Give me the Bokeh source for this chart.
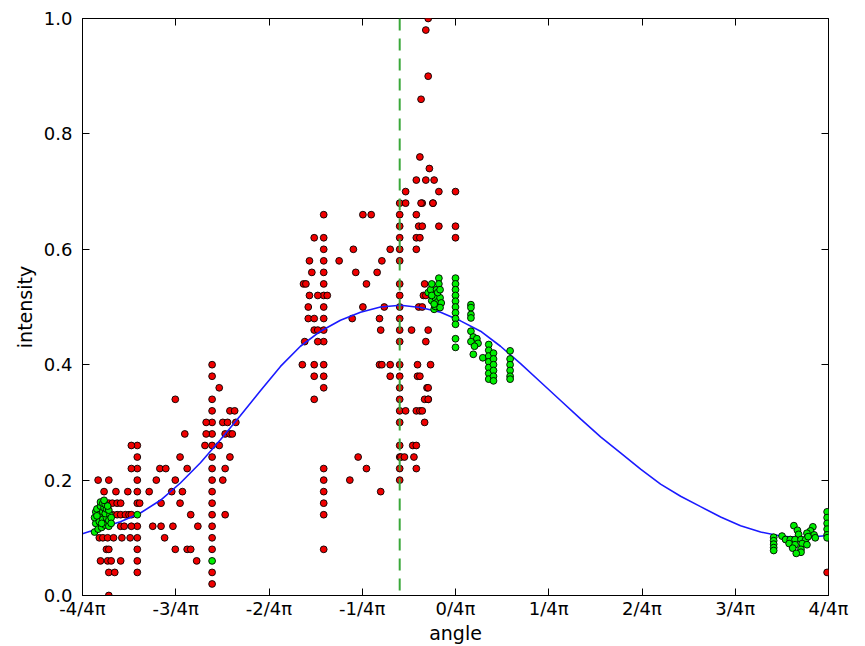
import numpy as np
from bokeh.plotting import figure
from bokeh.models import ColumnDataSource, FixedTicker, LinearAxis, Span, Range1d
from bokeh.embed import file_html
from bokeh.resources import INLINE

# ---------------- data ----------------
# red (other) measurements: angle [rad], intensity
red_x = [
    -3.01, -2.92,
    -2.96, -2.86, -2.76,
    -2.68, -2.68, -2.68, -2.68, -2.68, -2.68, -2.68, -2.68, -2.68, -2.68, -2.68,
    -2.73, -2.73,
    -2.95, -2.92, -2.89, -2.85, -2.82, -2.66,
    -2.89, -2.85, -2.82, -2.78, -2.75, -2.73,
    -2.82, -2.79, -2.73,
    -3.00, -2.97, -2.93, -2.88, -2.81, -2.74,
    -2.94, -2.92,
    -2.99, -2.93, -2.90, -2.82,
    -2.92, -2.87,
    -2.92,
    -2.36, -2.36, -2.36, -2.28, -2.32, -2.49, -2.44, -2.26, -2.52,
    -2.58, -2.39, -2.30, -2.48, -2.32, -2.23,
    -2.55, -2.48, -2.38, -2.17, -2.45, -2.26, -2.23, -2.18,
    -2.05, -2.05, -2.05, -2.05, -2.05, -2.05, -2.05, -2.05, -2.05,
    -2.05, -2.05, -2.05, -2.05, -2.05, -2.05, -2.05, -2.05, -2.05,
    -1.99, -1.90, -1.86, -2.10, -1.96, -1.92, -1.85,
    -2.10, -1.94, -1.90, -1.88, -2.11, -1.99, -1.90, -1.94, -1.96, -1.94,
    -1.11, -1.11, -1.11, -1.11, -1.11, -1.11, -1.11, -1.11, -1.11, -1.11,
    -1.11, -1.11, -1.11, -1.11, -1.11, -1.11, -1.11, -1.11, -1.11, -1.11,
    -1.19, -1.23, -1.21, -1.28, -1.26, -1.23, -1.16, -1.08, -1.24,
    -1.24, -1.19, -1.19, -1.16, -1.27, -1.16, -1.29, -1.19, -1.19, -1.19,
    -0.78, -0.71, -0.86, -0.55, -0.98, -0.62, -0.84, -0.66, -0.75,
    -0.78, -0.60, -0.87, -0.64, -0.63, -0.64, -0.62, -0.55, -0.55,
    -0.82, -0.75, -0.89, -0.63,
    -0.47, -0.47, -0.47, -0.47, -0.47, -0.47, -0.47, -0.47, -0.47, -0.47, -0.47,
    -0.47, -0.47, -0.47, -0.47, -0.47, -0.47, -0.47, -0.47, -0.47, -0.47, -0.47,
    -0.42, -0.28, -0.19, -0.33, -0.31, -0.28, -0.14, 0.00,
    -0.33, -0.30, 0.00, -0.33, -0.27, -0.25, -0.31, -0.28,
    -0.37, -0.23, -0.25, -0.32, -0.21, -0.32, -0.30, -0.24, -0.23, -0.23,
    -0.42, -0.33, -0.30, -0.28, -0.26, -0.23, -0.26, -0.36, -0.33,
    -0.46, -0.43, -0.35, -0.33, -0.26,
    -0.23, -0.25, -0.23, -0.29, -0.30, -0.22, -0.33, -0.25, -0.18,
    -0.42, -0.14, 0.00, -0.29, -0.19,
    3.13,
]
red_y = [
    0.20, 0.20,
    0.18, 0.18, 0.18,
    0.26, 0.24, 0.22, 0.20, 0.18, 0.16, 0.12, 0.10, 0.08, 0.06, 0.04,
    0.26, 0.22,
    0.16, 0.16, 0.16, 0.16, 0.16, 0.16,
    0.14, 0.14, 0.14, 0.14, 0.14, 0.14,
    0.12, 0.12, 0.12,
    0.10, 0.10, 0.10, 0.10, 0.10, 0.10,
    0.08, 0.08,
    0.06, 0.06, 0.06, 0.06,
    0.04, 0.04,
    0.00,
    0.34, 0.20, 0.08, 0.28, 0.24, 0.22, 0.22, 0.22, 0.20,
    0.18, 0.18, 0.18, 0.16, 0.16, 0.14,
    0.12, 0.12, 0.12, 0.12, 0.10, 0.08, 0.08, 0.06,
    0.40, 0.38, 0.34, 0.32, 0.30, 0.28, 0.26, 0.24, 0.22,
    0.20, 0.18, 0.16, 0.14, 0.12, 0.10, 0.08, 0.04, 0.02,
    0.36, 0.32, 0.32, 0.30, 0.30, 0.30, 0.30,
    0.28, 0.28, 0.28, 0.28, 0.26, 0.26, 0.24, 0.22, 0.20, 0.14,
    0.66, 0.62, 0.60, 0.58, 0.56, 0.54, 0.52, 0.50, 0.48, 0.46,
    0.44, 0.40, 0.38, 0.36, 0.22, 0.20, 0.18, 0.16, 0.14, 0.08,
    0.62, 0.58, 0.56, 0.54, 0.54, 0.52, 0.52, 0.52, 0.50,
    0.48, 0.48, 0.46, 0.46, 0.44, 0.44, 0.40, 0.40, 0.38, 0.34,
    0.66, 0.66, 0.60, 0.60, 0.58, 0.58, 0.56, 0.56, 0.54,
    0.50, 0.50, 0.48, 0.48, 0.46, 0.40, 0.40, 0.40, 0.38,
    0.24, 0.22, 0.20, 0.18,
    0.68, 0.66, 0.64, 0.62, 0.60, 0.58, 0.54, 0.52, 0.50, 0.48, 0.46,
    0.44, 0.40, 0.38, 0.36, 0.34, 0.32, 0.30, 0.26, 0.24, 0.22, 0.20,
    0.68, 0.68, 0.68, 0.66, 0.64, 0.64, 0.64, 0.64,
    0.62, 0.62, 0.62, 0.60, 0.52, 0.52, 0.50, 0.50,
    0.46, 0.46, 0.44, 0.40, 0.40, 0.38, 0.38, 0.36, 0.36, 0.34,
    0.32, 0.32, 0.32, 0.32, 0.34, 0.34, 0.30, 0.26, 0.26,
    0.24, 0.24, 0.24, 0.22, 0.54,
    1.00, 0.98, 0.90, 0.86, 0.76, 0.74, 0.72, 0.72, 0.72,
    0.70, 0.70, 0.70, 0.68, 0.68,
    0.04,
]

# green (selected) measurements
green_x = [
    -3.04, -3.03, -3.04, -3.03, -3.02,
    -3.01, -3.00, -3.00, -2.99, -2.99,
    -2.98, -2.97, -2.97, -2.96, -2.97,
    -2.95, -2.94, -2.95, -2.94, -2.95, -2.96,
    -2.92, -2.92, -2.91, -2.92, -2.90, -2.90,
    -3.02, -2.98, -2.93,
    -2.68, -2.05,
    -0.23, -0.21, -0.20, -0.20, -0.18, -0.17, -0.16, -0.15, -0.14, -0.13, -0.12,
    -0.20, -0.17, -0.13, -0.14, -0.15, -0.18, -0.13,
    0.00, 0.00, 0.00, 0.00, 0.00, 0.00, 0.00, 0.00, 0.00, 0.00, 0.00,
    0.13, 0.13, 0.13, 0.13, 0.13, 0.15, 0.18, 0.13, 0.19, 0.16, 0.15, 0.23,
    0.28, 0.28, 0.28, 0.28, 0.28, 0.28, 0.28,
    0.32, 0.32, 0.32, 0.32, 0.32, 0.32,
    0.46, 0.46, 0.46, 0.46, 0.46, 0.46,
    2.68, 2.68, 2.68, 2.68, 2.68,
    2.75, 2.85, 2.88, 2.89,
    2.78, 2.82, 2.86, 2.91, 2.95, 2.81, 2.86, 2.92, 2.96, 2.91, 2.84, 2.91, 2.87,
    3.01, 2.99, 2.96, 3.02, 2.97, 3.03,
    3.13, 3.13, 3.13, 3.13, 3.13, 3.13,
]
green_y = [
    0.110, 0.125, 0.135, 0.145, 0.150,
    0.115, 0.128, 0.140, 0.155, 0.162,
    0.118, 0.132, 0.145, 0.152, 0.160,
    0.122, 0.135, 0.142, 0.150, 0.158, 0.165,
    0.120, 0.130, 0.140, 0.148, 0.135, 0.125,
    0.138, 0.125, 0.155,
    0.14, 0.06,
    0.525, 0.530, 0.540, 0.511, 0.496, 0.516, 0.530, 0.509, 0.550, 0.516, 0.507,
    0.520, 0.501, 0.499, 0.540, 0.525, 0.505, 0.530,
    0.55, 0.54, 0.53, 0.52, 0.51, 0.50, 0.49, 0.48, 0.47, 0.445, 0.43,
    0.504, 0.499, 0.487, 0.481, 0.458, 0.448, 0.445, 0.440, 0.437, 0.432, 0.418, 0.412,
    0.435, 0.425, 0.415, 0.405, 0.395, 0.385, 0.375,
    0.420, 0.410, 0.400, 0.390, 0.380, 0.372,
    0.424, 0.410, 0.400, 0.390, 0.380, 0.375,
    0.101, 0.095, 0.089, 0.083, 0.078,
    0.103, 0.121, 0.113, 0.106,
    0.097, 0.097, 0.097, 0.097, 0.097, 0.090, 0.088, 0.090, 0.088, 0.080, 0.082, 0.075, 0.073,
    0.119, 0.112, 0.108, 0.105, 0.102, 0.100,
    0.145, 0.135, 0.125, 0.115, 0.105, 0.100,
]

# fitted model curve
curve_x = [-3.142, -2.991, -2.822, -2.654, -2.485, -2.317, -2.148, -1.980, -1.811,
           -1.643, -1.474, -1.306, -1.137, -0.969, -0.800, -0.632, -0.463, -0.295,
           -0.126, 0.042, 0.211, 0.379, 0.548, 0.716, 0.885, 1.053, 1.222, 1.390,
           1.559, 1.727, 1.896, 2.064, 2.233, 2.401, 2.570, 2.738, 2.906, 3.142]
curve_y = [0.107, 0.117, 0.128, 0.143, 0.165, 0.195, 0.230, 0.270, 0.312,
           0.355, 0.397, 0.432, 0.458, 0.477, 0.491, 0.500, 0.503, 0.499,
           0.491, 0.476, 0.458, 0.432, 0.402, 0.370, 0.338, 0.306, 0.275, 0.247,
           0.219, 0.193, 0.172, 0.154, 0.136, 0.121, 0.110, 0.103, 0.100, 0.104]

peak_angle = -0.47

x_tick_labels = ["-4/4π", "-3/4π", "-2/4π", "-1/4π", "0/4π", "1/4π", "2/4π", "3/4π", "4/4π"]
y_ticks = [0.0, 0.2, 0.4, 0.6, 0.8, 1.0]
y_tick_labels = ["0.0", "0.2", "0.4", "0.6", "0.8", "1.0"]

# ---------------- plot ----------------
x_ticks = [k * np.pi / 4 for k in range(-4, 5)]
FONT = "DejaVu Sans"
TICK_FS = "18px"
LABEL_FS = "19px"

p = figure(width=865, height=646, output_backend="svg", toolbar_location=None,
           x_range=Range1d(-np.pi, np.pi), y_range=Range1d(0, 1),
           min_border_left=82, min_border_right=37, min_border_top=18, min_border_bottom=49)
p.background_fill_color = "white"
p.border_fill_color = "white"
p.outline_line_color = "black"
p.outline_line_width = 1
p.xgrid.visible = False
p.ygrid.visible = False

red_src = ColumnDataSource(dict(x=red_x, y=red_y))
green_src = ColumnDataSource(dict(x=green_x, y=green_y))
curve_src = ColumnDataSource(dict(x=curve_x, y=curve_y))

p.scatter("x", "y", source=red_src, size=6.8, fill_color="#f00000",
          line_color="black", line_width=0.9)
p.line("x", "y", source=curve_src, line_color="#1a1aff", line_width=1.6)
p.scatter("x", "y", source=green_src, size=6.8, fill_color="#00f000",
          line_color="black", line_width=0.9)
p.add_layout(Span(location=peak_angle, dimension="height", line_color="#3aa83a",
                  line_width=2, line_dash="12 8"))

xt = FixedTicker(ticks=x_ticks)
yt = FixedTicker(ticks=y_ticks)

xa = p.xaxis[0]
xa.ticker = xt
xa.major_label_overrides = {t: l for t, l in zip(x_ticks, x_tick_labels)}
ya = p.yaxis[0]
ya.ticker = yt
ya.major_label_overrides = {t: l for t, l in zip(y_ticks, y_tick_labels)}
xa.axis_label = "angle"
ya.axis_label = "intensity"

for ax in (xa, ya):
    ax.major_tick_in = 7
    ax.major_tick_out = 0
    ax.minor_tick_line_color = None
    ax.axis_line_color = "black"
    ax.major_tick_line_color = "black"
    ax.major_label_text_font = FONT
    ax.major_label_text_font_size = TICK_FS
    ax.major_label_text_color = "black"
    ax.axis_label_text_font = FONT
    ax.axis_label_text_font_size = LABEL_FS
    ax.axis_label_text_font_style = "normal"
    ax.axis_label_text_color = "black"
xa.major_label_standoff = 2
xa.axis_label_standoff = 0
ya.major_label_standoff = 10
ya.axis_label_standoff = 5

# mirrored inward ticks on the top and right edges (no labels)
top = LinearAxis(ticker=xt)
right = LinearAxis(ticker=yt)
for ax in (top, right):
    ax.major_tick_in = 7
    ax.major_tick_out = 0
    ax.minor_tick_line_color = None
    ax.axis_line_color = None
    ax.major_label_text_font_size = "0px"
    ax.major_label_standoff = 0
p.add_layout(top, "above")
p.add_layout(right, "right")

open("out.html", "w").write(file_html(p, INLINE))
